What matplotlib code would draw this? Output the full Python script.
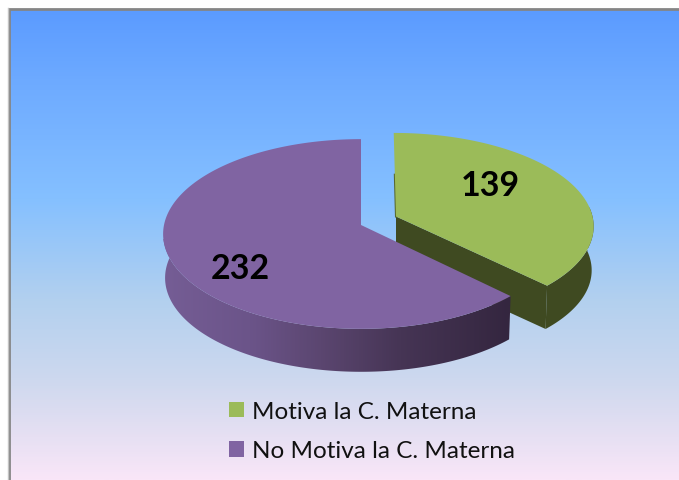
import numpy as np
import matplotlib
matplotlib.use("Agg")
import matplotlib.pyplot as plt
from matplotlib.colors import LinearSegmentedColormap
from matplotlib.patches import Patch, PathPatch
from matplotlib.path import Path

# --- data ---
categories = ["Motiva la C. Materna", "No Motiva la C. Materna"]
values = [139, 232]

# --- style ---
TOP_COLORS = ["#9bbb59", "#8064a2"]
W, H = 679, 481
plt.rcParams["font.family"] = ["Lato", "DejaVu Sans"]

fig = plt.figure(figsize=(W / 100, H / 100), dpi=100, facecolor="white")
ax = fig.add_axes([0, 0, 1, 1])
ax.set_axis_off()

# background gradient
bg_y = [10, 80, 200, 300, 380, 440, 481]
bg_c = ["#5b9bff", "#6daaff", "#85c0ff", "#b2d0ef", "#cdd8ee", "#e7e0f3", "#f9e6f8"]
bg_cmap = LinearSegmentedColormap.from_list(
    "bg", [((y - 10) / (481 - 10), c) for y, c in zip(bg_y, bg_c)])
ax.imshow(np.linspace(0, 1, 472)[:, None], extent=(10, W, H, 10), aspect="auto",
          cmap=bg_cmap, zorder=0, interpolation="bilinear")
ax.plot([9, 9, W], [H, 10, 10], color="#858585", lw=2, zorder=1, solid_joinstyle="miter")
ax.plot([8, 8], [H, 9], color="#c4c4c4", lw=1, zorder=1)

# perspective projection of the pie
P = 0.0947


def project(t_deg, c, rx, ry, skew=0.0, scale=1.0, dy=0.0):
    t = np.radians(t_deg)
    u, v = np.sin(t), np.cos(t)
    den = 1 + P * v
    return (c[0] + scale * (rx * u - skew * v) / den,
            c[1] + dy - scale * ry * v / den)


def arc(a0, a1, *args, **kw):
    ts = np.linspace(a0, a1, 200)
    return np.column_stack(project(ts, *args, **kw))


def polygon(points, **kw):
    ax.add_patch(plt.Polygon(points, closed=True, lw=0, **kw))


fractions = np.array(values) / sum(values)
split = 360 * fractions[0]

# green slice
g_c, g_rx, g_ry, g_sk = (396, 217.5), 196.5, 91.5, 2.5
DEPTH = 44
SHRINK = 0.99
g_args = (g_c, g_rx, g_ry)
g_kw = dict(skew=g_sk)
g_low = dict(skew=g_sk, scale=SHRINK, dy=DEPTH)
g_top_arc = arc(0, split, *g_args, **g_kw)
g_bot_arc = arc(0, split, *g_args, **g_low)
G_SIDE = "#3f4a21"
polygon(np.vstack([arc(84, split, *g_args, **g_kw),
                   arc(84, split, *g_args, **g_low)[::-1]]), color=G_SIDE, zorder=2)
polygon(np.vstack([[g_c], [g_top_arc[-1]], [g_bot_arc[-1]],
                   [(g_c[0], g_c[1] + DEPTH)]]), color=G_SIDE, zorder=2)
ax.plot([g_c[0], (g_c[0] + g_top_arc[0][0]) / 2], [g_c[1], (g_c[1] + g_top_arc[0][1]) / 2],
        color="#56682f", lw=1.5, zorder=2)
polygon(np.vstack([[g_c], g_top_arc]), color=TOP_COLORS[0], zorder=3)

# purple slice
p_c, p_rx, p_ry = (361, 226), 197, 94
p_args = (p_c, p_rx, p_ry)
side_top = arc(split, 277, *p_args)
side_bot = arc(split, 277, *p_args, scale=SHRINK, dy=DEPTH)
side_path = Path(np.vstack([side_top, side_bot[::-1], side_top[:1]]), closed=True)
stops_x = [163, 250, 320, 400, 510]
stops_c = ["#755d95", "#6b5489", "#5b4670", "#463555", "#34263f"]
side_cmap = LinearSegmentedColormap.from_list(
    "side", [((x - 163) / (510 - 163), c) for x, c in zip(stops_x, stops_c)])
im = ax.imshow(np.linspace(0, 1, 348)[None, :], extent=(163, 511, 385, 240), aspect="auto",
               cmap=side_cmap, zorder=4, interpolation="bilinear")
clip = PathPatch(side_path, transform=ax.transData, fc="none", ec="none")
ax.add_patch(clip)
im.set_clip_path(clip)
polygon(np.vstack([[p_c], arc(split, 360, *p_args)]), color=TOP_COLORS[1], zorder=5)

# value labels
label_pos = [(490, 186), (240, 269)]
for val, (x, y) in zip(values, label_pos):
    ax.text(x, y, str(val), ha="center", va="center", fontsize=24.5, fontweight="bold",
            color="black", zorder=6)

# legend
handles = [Patch(color=c, lw=0) for c in TOP_COLORS]
leg = ax.legend(handles, categories, loc="upper left", bbox_to_anchor=(229, 402),
                bbox_transform=ax.transData, frameon=False, fontsize=17.5, borderpad=0,
                borderaxespad=0, handlelength=0.62, handleheight=0.62,
                handletextpad=0.33, labelspacing=0.76, labelcolor="#111111")

ax.set_xlim(0, W)
ax.set_ylim(H, 0)
fig.savefig("out.png", dpi=100, facecolor="white")
